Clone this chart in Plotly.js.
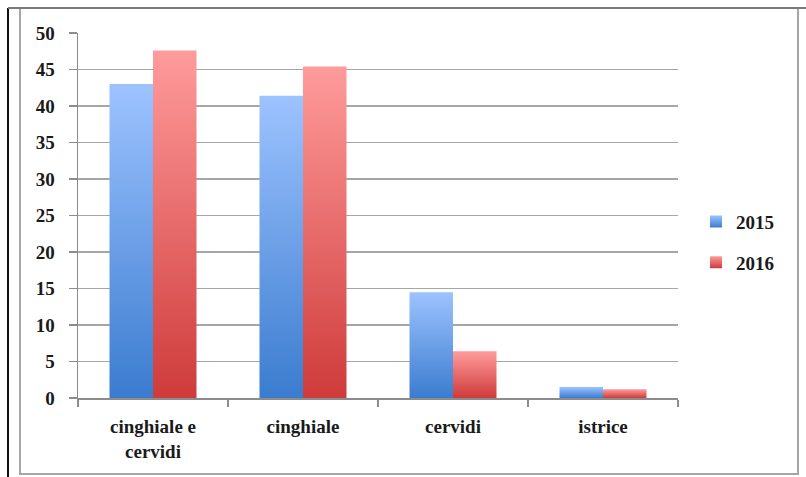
<!DOCTYPE html>
<html>
<head>
<meta charset="utf-8">
<script src="https://cdn.plot.ly/plotly-3.0.1.min.js"></script>
<style>
html,body{margin:0;padding:0;background:#fff;}
#chart{width:806px;height:477px;}
</style>
</head>
<body>
<div id="chart"></div>
<script>
const categories = ["cinghiale e<br>cervidi", "cinghiale", "cervidi", "istrice"];
const series2015 = [43.0, 41.4, 14.5, 1.5];
const series2016 = [47.6, 45.4, 6.4, 1.2];
const seriesNames = ["2015", "2016"];
const yTicks = [0, 5, 10, 15, 20, 25, 30, 35, 40, 45, 50];

const fontFam = "'Liberation Serif', 'DejaVu Serif', serif";
const tf = {family: fontFam, size: 19, color: "#1a1a1a", weight: "bold"};

const traces = [
  {type: "bar", name: seriesNames[0], legendgroup: "a", x: categories, y: series2015,
   marker: {color: "#5b93e0", line: {width: 0}}},
  {type: "bar", name: seriesNames[1], legendgroup: "b", x: categories, y: series2016,
   marker: {color: "#e06060", line: {width: 0}}}
];

const L = 78, T = 33, W = 600, H = 365;
function px(x){ return (x - L) / W; }
function py(y){ return (T + H - y) / H; }

const layout = {
  width: 806, height: 477,
  margin: {l: 78, r: 128, t: 33, b: 79},
  paper_bgcolor: "#ffffff",
  plot_bgcolor: "#ffffff",
  barmode: "group",
  bargap: 0.42,
  bargroupgap: 0,
  font: tf,
  showlegend: true,
  legend: {x: 1.03, y: 0.427, xanchor: "left", yanchor: "middle",
           font: tf, tracegroupgap: 13, itemwidth: 30, bgcolor: "rgba(0,0,0,0)"},
  xaxis: {type: "category", showgrid: false, showline: true, linecolor: "#8c8c8c", linewidth: 1.5,
          ticks: "outside", tickson: "boundaries", ticklen: 7, tickcolor: "#8c8c8c", tickwidth: 1.5,
          ticklabelstandoff: 11, tickfont: tf, fixedrange: true},
  yaxis: {range: [0, 50], tickvals: yTicks, showgrid: true, gridcolor: "#a6a6a6", gridwidth: 1.5,
          showline: true, linecolor: "#8c8c8c", linewidth: 1.5, zeroline: false,
          ticks: "outside", ticklen: 8, tickcolor: "#8c8c8c", tickwidth: 1.5,
          ticklabelstandoff: 10, tickfont: tf, fixedrange: true},
  shapes: [
    {type: "rect", xref: "paper", yref: "paper", x0: px(20), x1: px(798), y0: py(474), y1: py(8),
     line: {color: "#a6a6a6", width: 2}, fillcolor: "rgba(0,0,0,0)", layer: "below"},
    {type: "line", xref: "paper", yref: "paper", x0: px(8), x1: px(8), y0: py(477), y1: py(8),
     line: {color: "#111111", width: 2}},
    {type: "line", xref: "paper", yref: "paper", x0: px(8), x1: px(806), y0: py(8), y1: py(8),
     line: {color: "#7a7a7a", width: 2}}
  ]
};

const gd = document.getElementById("chart");

function applyGradients(){
  const svg = gd.querySelector("svg.main-svg");
  if (!svg) return;
  let defs = svg.querySelector("defs");
  if (!defs) { defs = document.createElementNS("http://www.w3.org/2000/svg", "defs"); svg.insertBefore(defs, svg.firstChild); }
  const grads = [["g2015", "#9dc3ff", "#3b7ccf"], ["g2016", "#ff9b9b", "#cf3b3b"]];
  grads.forEach(([id, c1, c2]) => {
    if (defs.querySelector("#" + id)) return;
    const lg = document.createElementNS("http://www.w3.org/2000/svg", "linearGradient");
    lg.setAttribute("id", id);
    lg.setAttribute("x1", "0"); lg.setAttribute("y1", "0");
    lg.setAttribute("x2", "0"); lg.setAttribute("y2", "1");
    [[0, c1], [1, c2]].forEach(([o, c]) => {
      const s = document.createElementNS("http://www.w3.org/2000/svg", "stop");
      s.setAttribute("offset", o); s.setAttribute("stop-color", c);
      lg.appendChild(s);
    });
    defs.appendChild(lg);
  });
  const traceGroups = gd.querySelectorAll(".barlayer .trace");
  traceGroups.forEach((tg, i) => {
    tg.querySelectorAll(".point path").forEach(p => { p.style.fill = "url(#" + grads[i % 2][0] + ")"; });
  });
  const legendItems = gd.querySelectorAll(".legend .traces");
  legendItems.forEach((li, i) => {
    li.querySelectorAll(".legendpoints path").forEach(p => { p.style.fill = "url(#" + grads[i % 2][0] + ")"; });
  });
}

Plotly.newPlot(gd, traces, layout, {displayModeBar: false, staticPlot: true}).then(() => {
  applyGradients();
  gd.on && gd.on("plotly_afterplot", applyGradients);
});
</script>
</body>
</html>
